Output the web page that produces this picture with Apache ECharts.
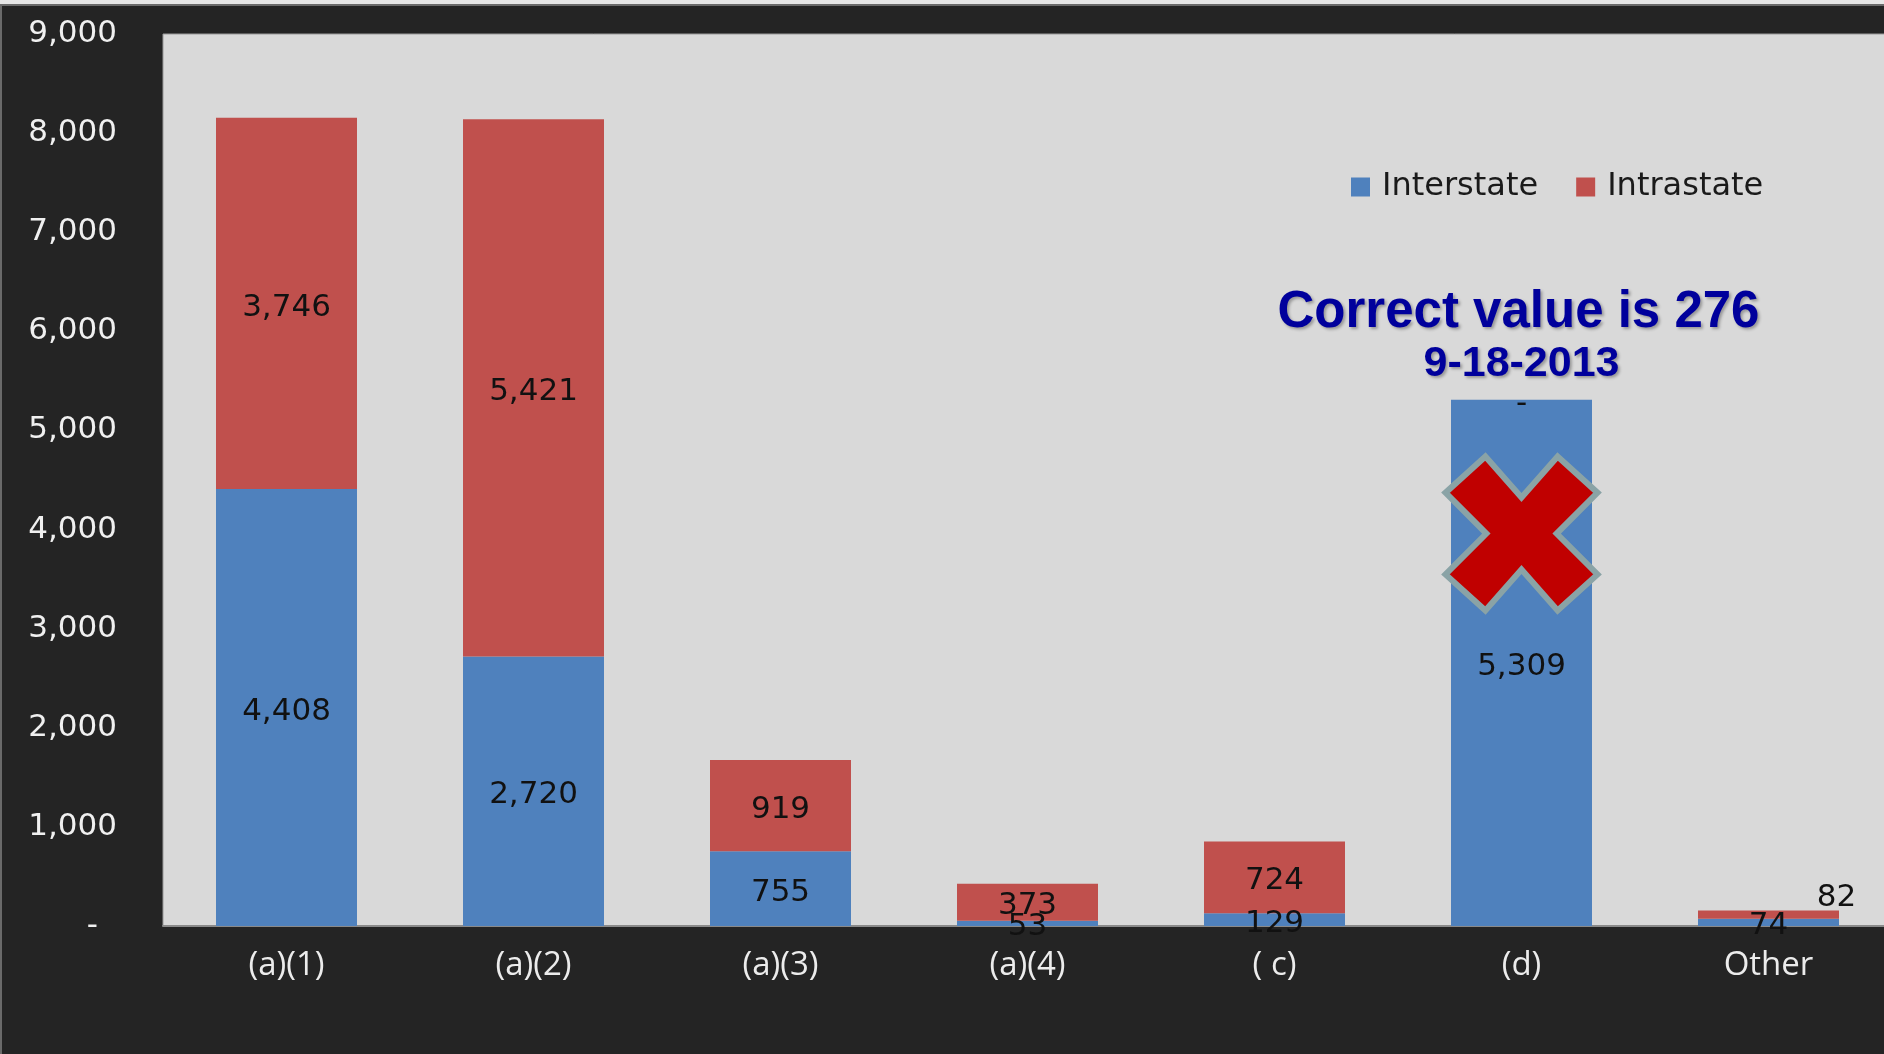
<!DOCTYPE html>
<html>
<head>
<meta charset="utf-8">
<script src="https://cdn.jsdelivr.net/npm/echarts@6/dist/echarts.min.js"></script>
<style>
  html, body { margin: 0; padding: 0; background: #242424; }
  #chart { width: 1884px; height: 1054px; }
</style>
</head>
<body>
<div id="chart"></div>
<script>
const categories = ['(a)(1)', '(a)(2)', '(a)(3)', '(a)(4)', '( c)', '(d)', 'Other'];
const interstate = [4408, 2720, 755, 53, 129, 5309, 74];
const intrastate = [3746, 5421, 919, 373, 724, 0, 82];
const yTicks = [0, 1000, 2000, 3000, 4000, 5000, 6000, 7000, 8000, 9000];
const seriesNames = ['Interstate', 'Intrastate'];
const noteTitle = 'Correct value is 276';
const noteDate = '9-18-2013';
const crossCategory = '(d)';
const crossValue = 3960;

const fmt = v => v === 0 ? '-' : v.toLocaleString('en-US');

const chart = echarts.init(document.getElementById('chart'), null, { renderer: 'canvas' });

const intraData = intrastate.map((v, i) => {
  if (categories[i] === 'Other') {
    return { value: v, label: { offset: [68, -17] } };
  }
  return v;
});

const labelStyle = {
  show: true, position: 'inside', color: '#111', fontFamily: 'DejaVu Sans', fontSize: 31,
  offset: [0, 4], formatter: p => fmt(p.value)
};

const option = {
  backgroundColor: '#242424',
  animation: false,
  grid: {
    left: 163, top: 34, right: -8, bottom: 128,
    outerBoundsMode: 'none', containLabel: false,
    show: true, backgroundColor: '#D9D9D9', borderWidth: 1, borderColor: '#9a9a9a'
  },
  legend: {
    data: seriesNames,
    left: 1346, top: 166,
    icon: 'rect', itemWidth: 19, itemHeight: 19, itemGap: 38,
    textStyle: { fontFamily: 'DejaVu Sans', fontSize: 32, color: '#1a1a1a', padding: [0, 0, 0, 7] }
  },
  xAxis: {
    type: 'category',
    data: categories,
    axisLine: { show: true, lineStyle: { color: '#8a8a8a', width: 2 } },
    axisTick: { show: false },
    axisLabel: { color: '#ececec', fontFamily: 'Open Sans', fontSize: 33, margin: 23 }
  },
  yAxis: {
    type: 'value',
    min: yTicks[0], max: yTicks[yTicks.length - 1], interval: yTicks[1] - yTicks[0],
    splitLine: { show: false },
    axisLine: { show: false },
    axisTick: { show: false },
    axisLabel: {
      color: '#f0f0f0', fontFamily: 'DejaVu Sans', fontSize: 31, margin: 46,
      formatter: v => v === 0 ? '{d|-}' : v.toLocaleString('en-US'),
      rich: { d: { color: '#f0f0f0', fontFamily: 'DejaVu Sans', fontSize: 31, padding: [0, 19, 0, 0] } }
    }
  },
  series: [
    {
      name: seriesNames[0], type: 'bar', stack: 'total', data: interstate,
      barWidth: 141,
      itemStyle: { color: '#4F81BD' },
      label: labelStyle
    },
    {
      name: seriesNames[1], type: 'bar', stack: 'total', data: intraData,
      barWidth: 141,
      itemStyle: { color: '#C0504D' },
      label: labelStyle
    }
  ]
};
chart.setOption(option);

const c = chart.convertToPixel({ xAxisIndex: 0, yAxisIndex: 0 }, [crossCategory, crossValue]);
const cx = c[0], cy = c[1];
const s = 0.95;
const crossPts = [[-38,-81],[0,-38],[38,-81],[80,-43],[37,0],[80,43],[38,81],[0,38],[-38,81],[-80,43],[-37,0],[-80,-43]]
  .map(p => [cx + p[0] * s, cy + p[1] * s]);

chart.setOption({
  graphic: [
    { type: 'rect', shape: { x: 0, y: 0, width: 1884, height: 4 }, style: { fill: '#e6e6e6' }, silent: true },
    { type: 'rect', shape: { x: 0, y: 4, width: 1884, height: 2 }, style: { fill: '#6a6a6a' }, silent: true },
    { type: 'rect', shape: { x: 0, y: 4, width: 2, height: 1050 }, style: { fill: '#6a6a6a' }, silent: true },
    {
      type: 'polygon', shape: { points: crossPts },
      style: { fill: '#C00000', stroke: '#8AA3A6', lineWidth: 6, lineJoin: 'miter' }, z: 100
    },
    {
      type: 'text', x: cx - 3, y: 313, z: 100,
      style: {
        text: noteTitle, fill: '#00009C', font: 'bold 51px "Liberation Sans", Arial, sans-serif',
        align: 'center', verticalAlign: 'middle',
        textShadowColor: 'rgba(0,0,0,0.3)', textShadowBlur: 3, textShadowOffsetX: 2, textShadowOffsetY: 2
      }
    },
    {
      type: 'text', x: cx, y: 364, z: 100,
      style: {
        text: noteDate, fill: '#00009C', font: 'bold 43px "Liberation Sans", Arial, sans-serif',
        align: 'center', verticalAlign: 'middle',
        textShadowColor: 'rgba(0,0,0,0.3)', textShadowBlur: 3, textShadowOffsetX: 2, textShadowOffsetY: 2
      }
    }
  ]
});
</script>
</body>
</html>
